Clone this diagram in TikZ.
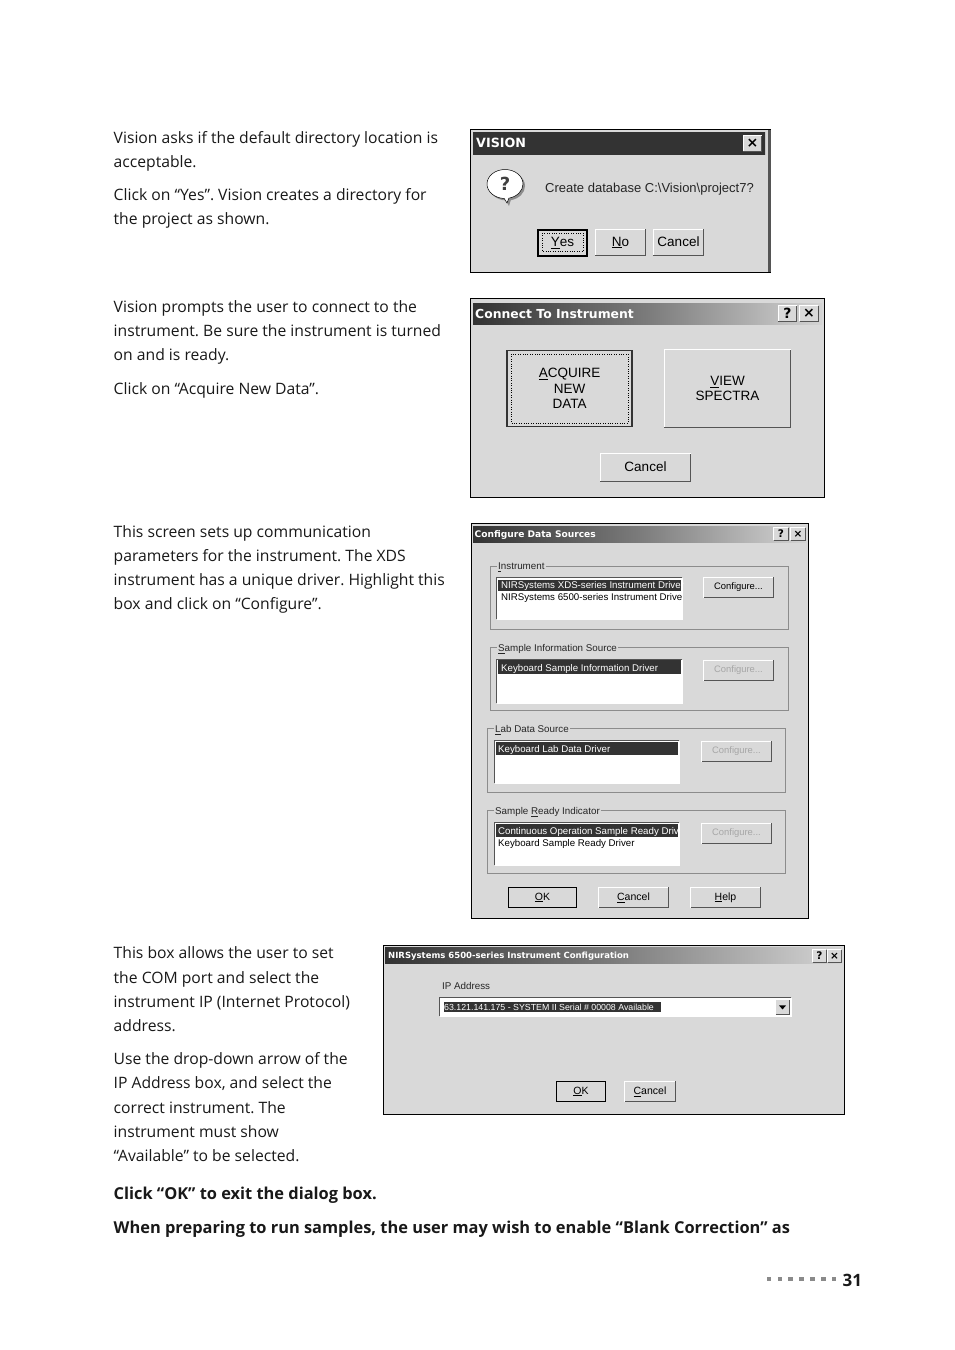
\documentclass[tikz,border=0pt]{standalone}
\usepackage{fontspec}
\setmainfont{Open Sans}
\newfontfamily\winfont{Liberation Sans}
\newfontfamily\barfont{DejaVu Sans}
\usetikzlibrary{shapes}
\definecolor{face}{HTML}{D9D9D9}
\definecolor{bar}{HTML}{333333}
\definecolor{barlite}{HTML}{D4D4D4}
\definecolor{edgedark}{HTML}{555555}
\definecolor{etch}{HTML}{8C8C8C}
\definecolor{ghost}{HTML}{A6A6A6}
\definecolor{pagegrey}{HTML}{8A8A8A}
\frenchspacing
\tikzset{
 wh/.style 2 args={minimum width=#1pt,minimum height=#2pt},
 body/.style={anchor=base west,inner sep=0pt,font=\fontsize{15.7}{24}\selectfont,text=black!90},
 boldline/.style={body,font=\fontsize{16.4}{24}\selectfont\bfseries},
 frame/.style={rectangle,draw=black,fill=face,line width=.9pt,inner sep=0pt},
 titlebar/.style={rectangle,inner sep=0pt,left color=bar,right color=barlite,middle color=bar!55!barlite},
 titletext/.style={anchor=west,inner sep=0pt,text=white,font=\barfont\bfseries\fontsize{#1}{#1}\selectfont},
 winbtn/.style={rectangle,fill=face,inner sep=0pt,align=center,font=\winfont\fontsize{13.5}{15.5}\selectfont},
 smallbtn/.style={rectangle,fill=face,inner sep=0pt,font=\winfont\fontsize{10.5}{12}\selectfont},
 cfgbtn/.style={smallbtn,wh={69}{20},font=\winfont\fontsize{9.4}{12}\selectfont},
 focus/.style={smallbtn,draw=black,line width=1pt},
 capbtn/.style={rectangle,fill=face,inner sep=0pt,wh={18}{15},font=\barfont\bfseries\fontsize{14}{14}\selectfont},
 capsmall/.style={capbtn,wh={14}{12},font=\barfont\bfseries\fontsize{10.5}{10.5}\selectfont},
 groupbox/.style={rectangle,draw=etch,line width=.8pt,inner sep=0pt},
 grouplabel/.style={anchor=west,fill=face,inner sep=1pt,font=\winfont\fontsize{9.8}{12}\selectfont,text=black!85},
 listbox/.style={rectangle,fill=white,inner sep=0pt},
 selrow/.style={rectangle,fill=bar,inner sep=0pt},
 rowtext/.style={anchor=west,inner sep=0pt,font=\winfont\fontsize{9.7}{12}\selectfont},
 pagedot/.style={rectangle,fill=pagegrey,inner sep=0pt,minimum size=4.6pt},
}
\newcommand{\raised}[1]{\draw[white,line width=1pt](#1.south west)--(#1.north west)--(#1.north east);
\draw[edgedark,line width=1.2pt](#1.south west)--(#1.south east)--(#1.north east);}
\newcommand{\sunken}[1]{\draw[white,line width=1pt](#1.south west)--(#1.south east)--(#1.north east);
\draw[edgedark,line width=1.2pt](#1.south west)--(#1.north west)--(#1.north east);}
\begin{document}
\begin{tikzpicture}[x=1pt,y=-1pt,node distance=10.85pt]
\useasboundingbox[fill=white](0,0) rectangle (954,1350);

\node[body](t1) at (113.5,143) {Vision asks if the default directory location is};
\node[body](t2) at (113.5,167) {acceptable.};
\node[body](t3) at (113.5,200) {Click on “Yes”. Vision creates a directory for};
\node[body](t4) at (113.5,224) {the project as shown.};
\node[body](t5) at (113.5,312) {Vision prompts the user to connect to the};
\node[body](t6) at (113.5,336) {instrument. Be sure the instrument is turned};
\node[body](t7) at (113.5,360) {on and is ready.};
\node[body](t8) at (113.5,394) {Click on “Acquire New Data”.};
\node[body](t9) at (113.5,537) {This screen sets up communication};
\node[body](t10) at (113.5,561) {parameters for the instrument. The XDS};
\node[body](t11) at (113.5,585) {instrument has a unique driver. Highlight this};
\node[body](t12) at (113.5,609) {box and click on “Configure”.};
\node[body](t13) at (113.5,958) {This box allows the user to set};
\node[body](t14) at (113.5,983) {the COM port and select the};
\node[body](t15) at (113.5,1007) {instrument IP (Internet Protocol)};
\node[body](t16) at (113.5,1031) {address.};
\node[body](t17) at (113.5,1064) {Use the drop-down arrow of the};
\node[body](t18) at (113.5,1088) {IP Address box, and select the};
\node[body](t19) at (113.5,1113) {correct instrument. The};
\node[body](t20) at (113.5,1137) {instrument must show};
\node[body](t21) at (113.5,1161) {“Available” to be selected.};
\node[boldline](t22) at (113.5,1199) {Click “OK” to exit the dialog box.};
\node[boldline](t23) at (113.5,1233) {When preparing to run samples, the user may wish to enable “Blank Correction” as};

\node[frame,wh={300}{143}](vis) at (620.5,201) {};
\draw[edgedark,line width=3pt](769,130)--(769,272);
\node[titlebar,left color=bar,right color=bar,middle color=bar,wh={292}{22}](visbar) at (619,143) {};
\node[titletext=12.7](vistitle) at (476,143) {VISION};
\node[capbtn](visx) at (752.5,143.5) {×};
\raised{visx}
\node[ellipse callout,fill=etch,inner sep=0pt,minimum width=36pt,minimum height=29pt,callout absolute pointer={(509,206)}](qshadow) at (507,186) {};
\node[ellipse callout,draw=black,line width=.5pt,fill=white,inner sep=0pt,minimum width=36pt,minimum height=29pt,callout absolute pointer={(507,203)},font=\barfont\bfseries\fontsize{18}{18}\selectfont,text=black!75](qmark) at (505,184) {?};
\node[anchor=west,inner sep=0pt,font=\winfont\fontsize{13}{15}\selectfont,text=black!85](vismsg) at (545,189) {Create database C:\textbackslash Vision\textbackslash project7?};
\node[winbtn,wh={49}{26},draw=black,line width=1.2pt](visyes) at (562.5,243) {\underline{Y}es};
\draw[black,dotted](542,233) rectangle (583,251);
\node[winbtn,wh={50}{26}](visno) at (620.5,242.5) {\underline{N}o};
\raised{visno}
\node[winbtn,wh={50}{26}](viscancel) at (678.5,242.5) {\vphantom{\underline{Y}}Cancel};
\raised{viscancel}

\node[frame,wh={354}{199}](con) at (647.5,397.5) {};
\node[titlebar,wh={349}{21}](conbar) at (647.5,313.5) {};
\node[titletext=12.4](contitle) at (475,313.5) {Connect To Instrument};
\node[capbtn](conq) at (787.5,313.5) {?};
\raised{conq}
\node[capbtn](conx) at (809,313.5) {×};
\raised{conx}
\node[winbtn,wh={125}{76},draw=black!80,line width=1.4pt](acquire) at (569.5,388.5) {\underline{A}CQUIRE\\NEW\\DATA};
\draw[black,dotted](511,354) rectangle (628,423);
\node[winbtn,wh={126}{77}](view) at (727.5,388.5) {\underline{V}IEW\\SPECTRA};
\raised{view}
\node[winbtn,wh={90}{27}](concancel) at (645.5,467.5) {\vphantom{\underline{Y}}Cancel};
\raised{concancel}

\node[frame,wh={337}{395}](src) at (639.5,721) {};
\node[titlebar,wh={333}{16}](srcbar) at (639.5,534) {};
\node[titletext=9.1](srctitle) at (474.5,535) {Configure Data Sources};
\node[capsmall](srcq) at (781,534) {?};
\raised{srcq}
\node[capsmall](srcx) at (798,534) {×};
\raised{srcx}

\node[groupbox,wh={298}{63}](ginst) at (639,597.5) {};
\node[grouplabel](ginstl) at (497,567) {\underline{I}nstrument};
\node[listbox,wh={185}{41}](linst) at (589.5,598.5) {};
\sunken{linst}
\node[selrow,wh={183}{11}](sinst) at (589.5,585) {};
\node[rowtext,text=white](rinst1) at (501,585.5) {NIRSystems XDS-series Instrument Driver};
\node[rowtext](rinst2) at (501,598) {NIRSystems 6500-series Instrument Drive};
\node[cfgbtn](binst) at (738.5,587.5) {Configure...};
\raised{binst}

\node[groupbox,wh={298}{63}](gsamp) at (639,678.5) {};
\node[grouplabel](gsampl) at (497,649) {\underline{S}ample Information Source};
\node[listbox,wh={185}{43}](lsamp) at (589.5,681.5) {};
\sunken{lsamp}
\node[selrow,wh={183}{14}](ssamp) at (589.5,667) {};
\node[rowtext,text=white](rsamp) at (501,668.5) {Keyboard Sample Information Driver};
\node[cfgbtn,text=ghost](bsamp) at (738.5,670.5) {Configure...};
\raised{bsamp}

\node[groupbox,wh={298}{64}](glab) at (636,760) {};
\node[grouplabel](glabl) at (494,730) {\underline{L}ab Data Source};
\node[listbox,wh={184}{42}](llab) at (587,762) {};
\sunken{llab}
\node[selrow,wh={182}{13}](slab) at (587,748.5) {};
\node[rowtext,text=white](rlab) at (498,749.5) {Keyboard Lab Data Driver};
\node[cfgbtn,text=ghost](blab) at (736.5,751.5) {Configure...};
\raised{blab}

\node[groupbox,wh={298}{63}](grdy) at (636,841.5) {};
\node[grouplabel](grdyl) at (494,812) {Sample \underline{R}eady Indicator};
\node[listbox,wh={184}{42}](lrdy) at (587,844) {};
\sunken{lrdy}
\node[selrow,wh={182}{13}](srdy) at (587,830.5) {};
\node[rowtext,text=white](rrdy1) at (498,831.5) {Continuous Operation Sample Ready Driv};
\node[rowtext](rrdy2) at (498,844) {Keyboard Sample Ready Driver};
\node[cfgbtn,text=ghost](brdy) at (736.5,833.5) {Configure...};
\raised{brdy}

\node[focus,wh={68}{20}](srcok) at (542.5,897.5) {\underline{O}K};
\node[smallbtn,wh={69}{20}](srccancel) at (633.5,897.5) {\underline{C}ancel};
\raised{srccancel}
\node[smallbtn,wh={69}{20}](srchelp) at (725.5,897.5) {\underline{H}elp};
\raised{srchelp}

\node[frame,wh={461}{169}](cfg) at (613.5,1029.5) {};
\node[titlebar,wh={456}{16}](cfgbar) at (613,955) {};
\node[titletext=8.5](cfgtitle) at (388,956) {NIRSystems 6500-series Instrument Configuration};
\node[capsmall,wh={13}{12}](cfgq) at (819.5,956) {?};
\raised{cfgq}
\node[capsmall,wh={13}{12}](cfgx) at (834.5,956) {×};
\raised{cfgx}
\node[grouplabel,fill=none](iplabel) at (441,986) {IP Address};
\node[listbox,wh={351}{18}](ipbox) at (615.5,1007) {};
\sunken{ipbox}
\node[selrow,wh={217}{10}](ipsel) at (552.5,1007) {};
\node[rowtext,text=white,font=\winfont\fontsize{8.8}{12}\selectfont](iptext) at (444,1007.5) {63.121.141.175 - SYSTEM II Serial \# 00008 Available};
\node[smallbtn,wh={13}{14}](ipdrop) at (782.5,1007) {};
\raised{ipdrop}
\node[isosceles triangle,shape border rotate=-90,fill=black,inner sep=0pt,minimum height=4pt,minimum width=7pt,isosceles triangle stretches](iparrow) at (782.5,1007) {};
\node[focus,wh={49}{20}](cfgok) at (581,1091.5) {\underline{O}K};
\node[smallbtn,wh={50}{20}](cfgcancel) at (650,1091.5) {\underline{C}ancel};
\raised{cfgcancel}

\node[pagedot](d1) at (769,1279) {};
\node[pagedot](d2)[right of=d1]{};
\node[pagedot](d3)[right of=d2]{};
\node[pagedot](d4)[right of=d3]{};
\node[pagedot](d5)[right of=d4]{};
\node[pagedot](d6)[right of=d5]{};
\node[pagedot](d7)[right of=d6]{};
\node[boldline,font=\fontsize{17}{20}\selectfont\bfseries](pagenum) at (842.5,1286) {31};
\end{tikzpicture}
\end{document}
